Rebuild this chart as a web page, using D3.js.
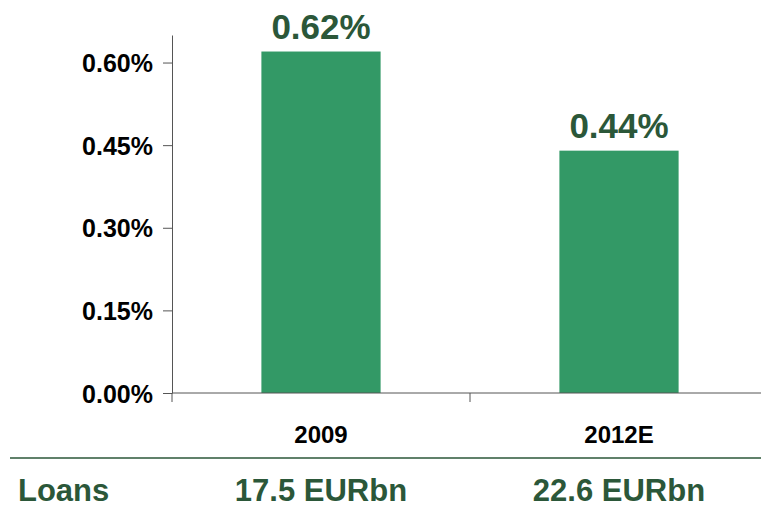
<!DOCTYPE html>
<html><head><meta charset="utf-8">
<script src="https://cdn.jsdelivr.net/npm/d3@7"></script>
<style>body{margin:0;background:#fff}svg{display:block}text{font-family:"Liberation Sans",Arial,sans-serif;font-weight:bold}</style>
</head><body><svg id="c" width="761" height="516"></svg>
<script>
const categories = ["2009", "2012E"];
const values = [0.62, 0.44];
const valueLabels = ["0.62%", "0.44%"];
const loans = ["17.5 EURbn", "22.6 EURbn"];
const rowLabel = "Loans";
const yTicks = [0, 0.15, 0.30, 0.45, 0.60];

const svg = d3.select("#c");
const x = d3.scaleBand().domain(categories).range([172, 768]).padding(0);
const y = d3.scaleLinear().domain([0, 0.65]).range([393, 35]);
const bw = x.bandwidth();
const axisColor = "#555";

// bars
svg.selectAll("rect.bar").data(values).join("rect")
  .attr("x", (d,i) => x(categories[i]) + bw*0.3)
  .attr("width", bw*0.4)
  .attr("y", d => y(d))
  .attr("height", d => y(0) - y(d))
  .attr("fill", "#339966");

// y axis
const ya = svg.append("g").attr("transform", "translate(172,0)")
  .call(d3.axisLeft(y).tickValues(yTicks).tickFormat(d => d.toFixed(2) + "%").tickSize(9).tickPadding(10).tickSizeOuter(0));
ya.select(".domain").attr("stroke", axisColor);
ya.selectAll(".tick line").attr("stroke", axisColor);
ya.selectAll(".tick text").attr("fill", "#000").style("font-size", "25px").attr("dy", "0.36em");

// x axis line and boundary ticks
svg.append("line").attr("x1", 172).attr("x2", 768).attr("y1", y(0)).attr("y2", y(0)).attr("stroke", axisColor);
const bounds = categories.map(c => x(c));
svg.selectAll("line.xt").data(bounds).join("line")
  .attr("x1", d => d).attr("x2", d => d).attr("y1", y(0)).attr("y2", y(0)+9).attr("stroke", axisColor);

// category labels
svg.selectAll("text.cat").data(categories).join("text")
  .attr("x", d => x(d) + bw/2).attr("y", 443).attr("text-anchor", "middle")
  .style("font-size", "24px").attr("fill", "#000").text(d => d);

// value labels
svg.selectAll("text.val").data(values).join("text")
  .attr("x", (d,i) => x(categories[i]) + bw/2).attr("y", d => y(d) - 13)
  .attr("text-anchor", "middle").style("font-size", "35px").attr("fill", "#2b5739")
  .text((d,i) => valueLabels[i]);

// separator line
svg.append("line").attr("x1", 10).attr("x2", 761).attr("y1", 458).attr("y2", 458)
  .attr("stroke", "#2b5739").attr("stroke-width", 1.5);

// loans row
svg.append("text").attr("x", 18).attr("y", 501).style("font-size", "31px").attr("fill", "#2b5739").text(rowLabel);
svg.selectAll("text.loan").data(loans).join("text")
  .attr("x", (d,i) => x(categories[i]) + bw/2).attr("y", 501).attr("text-anchor", "middle")
  .style("font-size", "31px").attr("fill", "#2b5739").text(d => d);
</script></body></html>
